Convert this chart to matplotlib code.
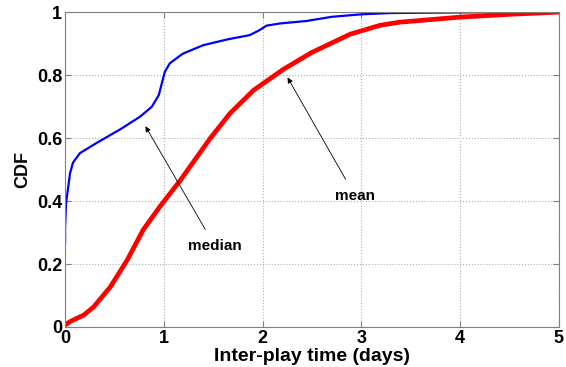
import matplotlib
matplotlib.use("Agg")
import matplotlib.pyplot as plt

plt.rcParams['font.family'] = ['Liberation Sans', 'DejaVu Sans']
plt.rcParams['font.weight'] = 'bold'

# CDF of inter-play time, median and mean per user
median_days = [0, 0.0, 0.01, 0.05, 0.08, 0.15, 0.29, 0.46, 0.56, 0.76, 0.88, 0.95, 0.98,
               1.01, 1.06, 1.17, 1.2, 1.4, 1.64, 1.87, 1.96, 2.04, 2.18, 2.45, 2.7, 3.0, 3.3,
               3.6, 4.0, 4.5, 5.0]
median_cdf = [0.266, 0.318, 0.393, 0.488, 0.522, 0.552, 0.579, 0.61, 0.628, 0.668, 0.70,
              0.737, 0.774, 0.81, 0.837, 0.863, 0.869, 0.895, 0.913, 0.927, 0.941, 0.957, 0.964,
              0.972, 0.985, 0.993, 0.997, 0.998, 0.999, 1.0, 1.0]

mean_days = [0, 0.05, 0.19, 0.29, 0.46, 0.63, 0.79, 0.96, 1.17, 1.47, 1.67, 1.91, 2.21, 2.5,
             2.89, 3.19, 3.39, 4.0, 4.5, 5.0]
mean_cdf = [0.006, 0.017, 0.038, 0.064, 0.128, 0.213, 0.308, 0.382, 0.467, 0.599, 0.678, 0.752,
            0.818, 0.872, 0.93, 0.958, 0.968, 0.984, 0.993, 1.0]

xticks = [0, 1, 2, 3, 4, 5]
yticks = [0, 0.2, 0.4, 0.6, 0.8, 1]
ytick_labels = ['0', '0.2', '0.4', '0.6', '0.8', '1']

fig = plt.figure(figsize=(5.66, 3.67), dpi=100)
ax = fig.add_axes([0.115, 0.109, 0.872, 0.858])

ax.plot(median_days, median_cdf, color='#0000ff', lw=1.6, solid_joinstyle='round')
ax.plot(mean_days, mean_cdf, color='#ff0000', lw=3.4, solid_joinstyle='round')

ax.set_xlim(0, 5)
ax.set_ylim(0, 1)
ax.set_xticks(xticks)
ax.set_yticks(yticks)
ax.set_xticklabels([str(t) for t in xticks])
ax.set_yticklabels(ytick_labels)
ax.grid(True, linestyle=':', color='#b0b0b0', lw=0.8)
for s in ax.spines.values():
    s.set_color('#808080')
ax.tick_params(direction='in', top=True, right=True, length=4, color='#808080',
               labelsize=13)
ax.tick_params(axis='x', pad=2)
ax.tick_params(axis='y', pad=2)
for lab in ax.get_xticklabels() + ax.get_yticklabels():
    lab.set_fontweight('bold')

ax.set_xlabel('Inter-play time (days)', fontsize=14, fontweight='bold')
ax.xaxis.set_label_coords(0.5, -0.066)
ax.set_ylabel('CDF', fontsize=13, fontweight='bold', labelpad=4)

arrow = dict(arrowstyle='-|>', color='black', lw=0.6, mutation_scale=8, shrinkA=6)
ax.annotate('median', xy=(0.80, 0.645), xytext=(1.52, 0.256), ha='center', va='center',
            fontsize=11, fontweight='bold', arrowprops=arrow)
ax.annotate('mean', xy=(2.24, 0.80), xytext=(2.94, 0.415), ha='center', va='center',
            fontsize=11, fontweight='bold', arrowprops=arrow)

fig.savefig('out.png', dpi=100)
